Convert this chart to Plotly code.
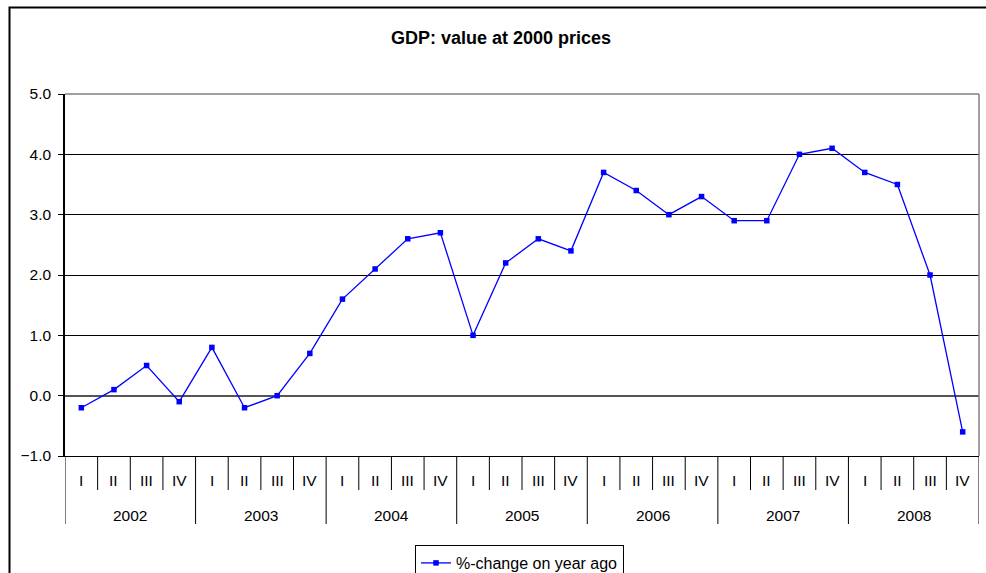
import plotly.graph_objects as go

years = ["2002", "2003", "2004", "2005", "2006", "2007", "2008"]
quarters = ["I", "II", "III", "IV"]
values = [
    -0.2, 0.1, 0.5, -0.1,
    0.8, -0.2, 0.0, 0.7,
    1.6, 2.1, 2.6, 2.7,
    1.0, 2.2, 2.6, 2.4,
    3.7, 3.4, 3.0, 3.3,
    2.9, 2.9, 4.0, 4.1,
    3.7, 3.5, 2.0, -0.6,
]
series_name = "%-change on year ago"
title_text = "GDP: value at 2000 prices"

W, H = 986, 573
L, R, T, B = 65, 979, 94, 456
PW, PH = R - L, B - T
FONT = "Liberation Sans, Arial"

def px_x(px):
    return (px - L) / PW

def px_y(py):
    return (B - py) / PH

n = len(values)
x_idx = list(range(n))

fig = go.Figure()
fig.add_trace(go.Scatter(
    x=x_idx, y=values, mode="lines+markers", name=series_name,
    line=dict(color="#0000FF", width=1.3),
    marker=dict(symbol="square", size=5.5, color="#0000FF"),
))

shapes = []
annotations = []
for k in range(n + 1):
    is_year = (k % 4 == 0)
    shapes.append(dict(type="line", xref="x", yref="paper", x0=k - 0.5, x1=k - 0.5,
                       y0=0, y1=px_y(524 if is_year else 490),
                       line=dict(color="black", width=1)))
for k in range(n):
    annotations.append(dict(x=k, y=px_y(480), xref="x", yref="paper", text=quarters[k % 4],
                            showarrow=False, font=dict(family=FONT, size=15.5, color="black"),
                            xanchor="center", yanchor="middle"))
for i, yr in enumerate(years):
    annotations.append(dict(x=i * 4 + 1.5, y=px_y(515), xref="x", yref="paper", text=yr,
                            showarrow=False, font=dict(family=FONT, size=15.5, color="black"),
                            xanchor="center", yanchor="middle"))
annotations.append(dict(x=px_x(501), y=px_y(38), xref="paper", yref="paper", text="<b>" + title_text + "</b>",
                        showarrow=False, font=dict(family=FONT, size=18, color="black"),
                        xanchor="center", yanchor="middle"))
shapes.append(dict(type="line", xref="paper", yref="paper", x0=0, x1=1, y0=1, y1=1,
                   line=dict(color="#808080", width=1.5)))
shapes.append(dict(type="line", xref="paper", yref="paper", x0=1, x1=1, y0=0, y1=1,
                   line=dict(color="#808080", width=1.5)))
shapes.append(dict(type="rect", xref="paper", yref="paper", x0=px_x(9.5), x1=px_x(1000),
                   y0=px_y(600), y1=px_y(7.5), line=dict(color="black", width=2), layer="below"))

fig.update_layout(
    width=W, height=H,
    margin=dict(l=L, r=W - R, t=T, b=H - B, pad=0, autoexpand=False),
    paper_bgcolor="white", plot_bgcolor="white",
    showlegend=True,
    legend=dict(x=px_x(415), y=px_y(545), xanchor="left", yanchor="top",
                bordercolor="black", borderwidth=1, bgcolor="white",
                font=dict(family=FONT, size=16, color="black"),
                itemwidth=30, orientation="h"),
    shapes=shapes, annotations=annotations,
    font=dict(family=FONT, size=15.5, color="black"),
)
fig.update_xaxes(range=[-0.5, n - 0.5], showgrid=False, zeroline=False, showticklabels=False,
                 showline=True, linecolor="black", linewidth=1, ticks="")
fig.update_yaxes(range=[-1, 5], dtick=1, tick0=0, tickformat=".1f", showgrid=True,
                 gridcolor="black", gridwidth=1, zeroline=True, zerolinecolor="#555555", zerolinewidth=1.5,
                 showline=True, linecolor="black", linewidth=1.5,
                 ticks="outside", ticklen=5, tickcolor="black", ticklabelstandoff=4,
                 tickfont=dict(family=FONT, size=15.5, color="black"))

fig.write_html("out.html")
